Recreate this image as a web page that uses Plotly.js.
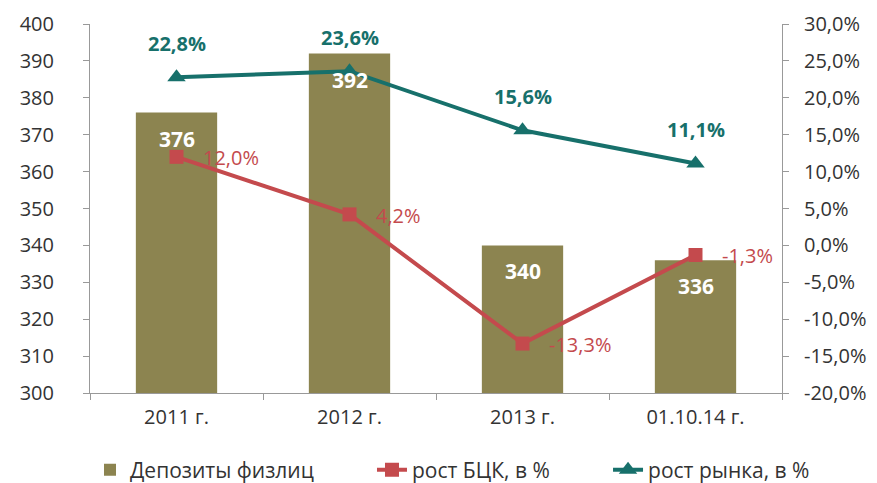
<!DOCTYPE html>
<html><head><meta charset="utf-8">
<script src="https://cdn.plot.ly/plotly-3.0.1.min.js"></script>
<style>html,body{margin:0;padding:0;background:#fff}#c{width:877px;height:483px}</style>
</head><body><div id="c"></div>
<script>
const categories = ["2011 г.", "2012 г.", "2013 г.", "01.10.14 г."];
const deposits = [376, 392, 340, 336];
const bckGrowth = [12.0, 4.2, -13.3, -1.3];
const marketGrowth = [22.8, 23.6, 15.6, 11.1];
const leftTicks = [300, 310, 320, 330, 340, 350, 360, 370, 380, 390, 400];
const rightTicks = [-20, -15, -10, -5, 0, 5, 10, 15, 20, 25, 30];

const fmt = v => v.toFixed(1).replace('.', ',') + '%';
const FONT = '"Open Sans", Lato, sans-serif';
const olive = '#8c8450', red = '#c44a4d', teal = '#17706b';

const traces = [
  {type:'bar', x:categories, y:deposits, name:'Депозиты физлиц', marker:{color:olive}, width:0.47, yaxis:'y', legend:'legend'},
  {type:'scatter', mode:'lines+markers', x:categories, y:bckGrowth, name:'рост БЦК, в %', yaxis:'y2', legend:'legend2',
   line:{color:red, width:4}, marker:{symbol:'square', size:14, color:red}},
  {type:'scatter', mode:'lines+markers', x:categories, y:marketGrowth, name:'рост рынка, в %', yaxis:'y2', legend:'legend3',
   line:{color:teal, width:4}, marker:{symbol:'triangle-up', size:16, color:teal}}
];

const annotations = [];
categories.forEach((c,i)=>{
  annotations.push({x:c, y:deposits[i], yref:'y', text:'<b>'+deposits[i]+'</b>', showarrow:false,
    yanchor:'top', yshift:-10, font:{family:FONT, size:21, color:'#ffffff'}});
  annotations.push({x:c, y:marketGrowth[i], yref:'y2', text:'<b>'+fmt(marketGrowth[i])+'</b>', showarrow:false,
    yanchor:'bottom', yshift:18, font:{family:FONT, size:20, color:teal}});
  annotations.push({x:c, y:bckGrowth[i], yref:'y2', text:fmt(bckGrowth[i]), showarrow:false,
    xanchor:'left', xshift:24, yshift:-1, font:{family:FONT, size:20, color:red}});
});

const legBase = {orientation:'h', xanchor:'left', y:-0.209, yanchor:'middle', font:{family:FONT, size:21, color:'#333'}, bgcolor:'rgba(0,0,0,0)'};
const layout = {
  width:877, height:483,
  margin:{l:90, r:95, t:24, b:90, autoexpand:false},
  paper_bgcolor:'#fff', plot_bgcolor:'#fff',
  font:{family:FONT, size:18, color:'#333'},
  showlegend:true,
  legend:Object.assign({}, legBase, {x:0.0}),
  legend2:Object.assign({}, legBase, {x:0.4075}),
  legend3:Object.assign({}, legBase, {x:0.7486}),
  xaxis:{type:'category', showline:true, linecolor:'#999', linewidth:1, ticks:'outside', tickson:'boundaries', ticklen:6, tickcolor:'#999', showgrid:false, tickfont:{size:20, color:'#333'}, ticklabelstandoff:6},
  yaxis:{range:[300,400], tickvals:leftTicks, showline:true, linecolor:'#999', ticks:'outside', ticklen:6, tickcolor:'#999', showgrid:false, zeroline:false, tickfont:{size:20, color:'#333'}, ticklabelstandoff:25},
  yaxis2:{range:[-20,30], overlaying:'y', side:'right', tickvals:rightTicks, ticktext:rightTicks.map(fmt), showline:true, linecolor:'#999', ticks:'outside', ticklen:6, tickcolor:'#999', showgrid:false, zeroline:false, tickfont:{size:20, color:'#333'}, ticklabelstandoff:11},
  annotations:annotations,
  bargap:0.5
};
Plotly.newPlot('c', traces, layout, {displayModeBar:false, staticPlot:true});
</script></body></html>
